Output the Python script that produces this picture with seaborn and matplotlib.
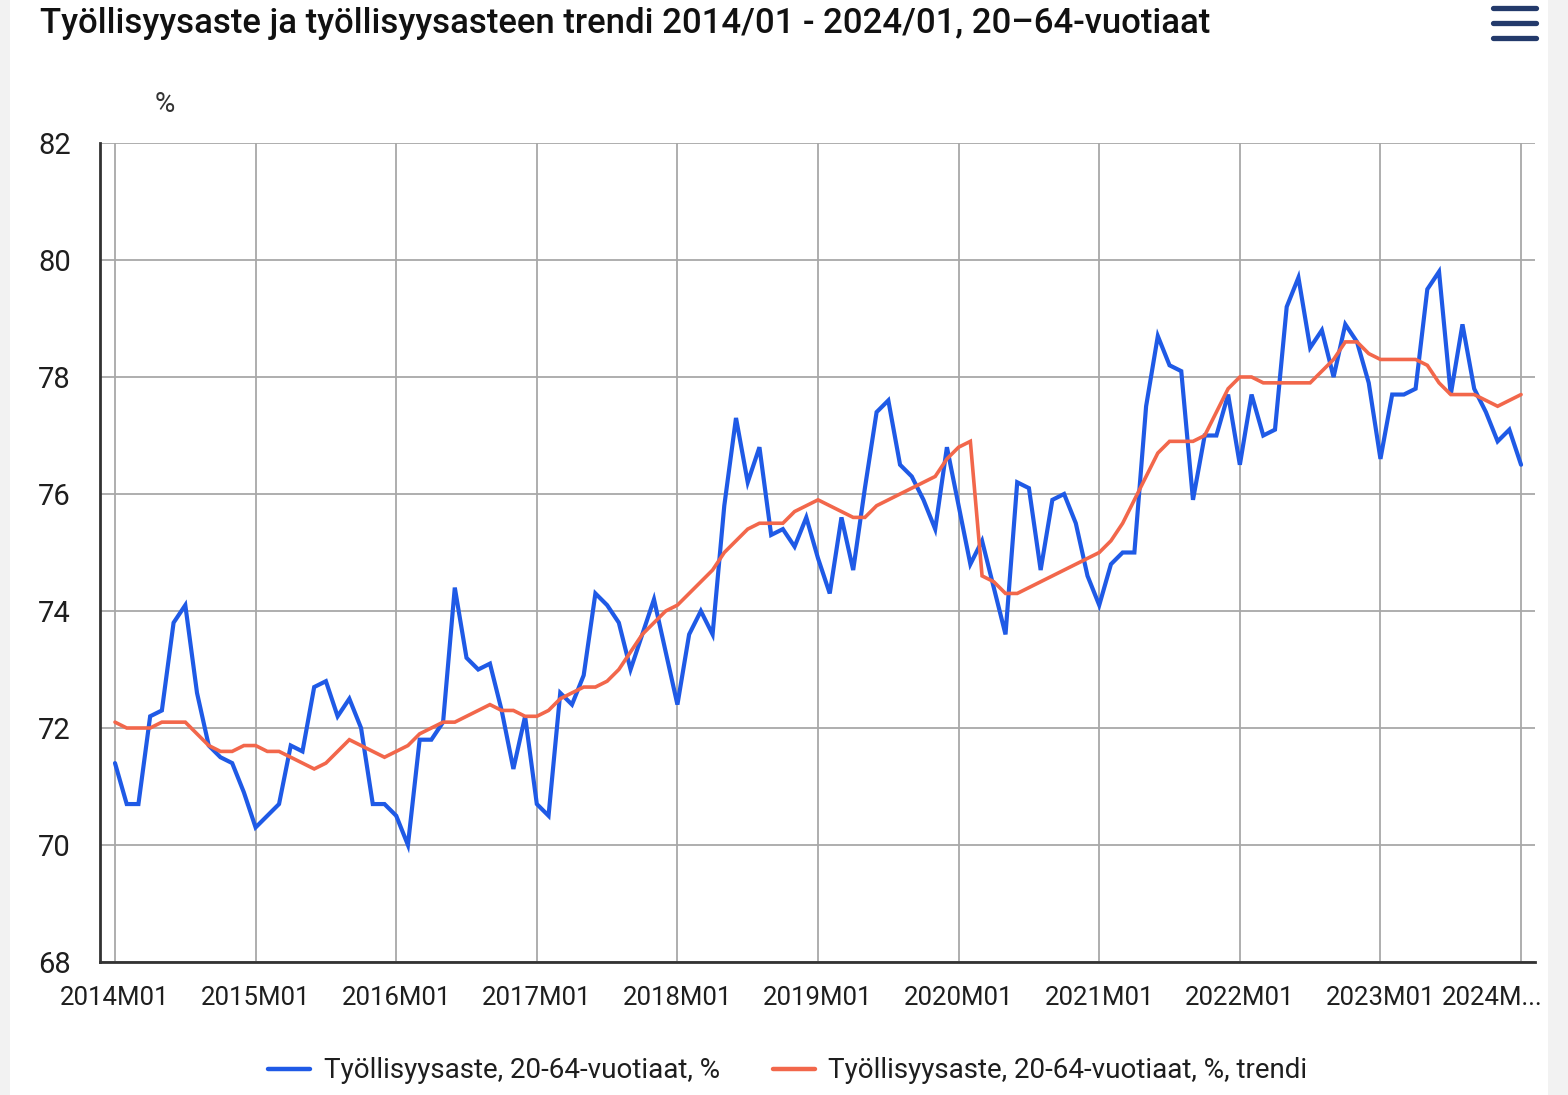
import matplotlib
matplotlib.use("Agg")
import matplotlib.pyplot as plt
from matplotlib.lines import Line2D
from matplotlib.patches import Rectangle
import matplotlib.transforms as mtransforms
import seaborn as sns
import pandas as pd
import numpy as np

title = "Työllisyysaste ja työllisyysasteen trendi 2014/01 - 2024/01, 20–64-vuotiaat"
series_names = ["Työllisyysaste, 20-64-vuotiaat, %",
                "Työllisyysaste, 20-64-vuotiaat, %, trendi"]
tick_labels = ["2014M01", "2015M01", "2016M01", "2017M01", "2018M01", "2019M01",
               "2020M01", "2021M01", "2022M01", "2023M01", "2024M..."]
y_ticks = [68, 70, 72, 74, 76, 78, 80, 82]

rate = [71.4, 70.7, 70.7, 72.2, 72.3, 73.8, 74.1, 72.6, 71.7, 71.5, 71.4, 70.9,
        70.3, 70.5, 70.7, 71.7, 71.6, 72.7, 72.8, 72.2, 72.5, 72.0, 70.7, 70.7,
        70.5, 70.0, 71.8, 71.8, 72.1, 74.4, 73.2, 73.0, 73.1, 72.3, 71.3, 72.2,
        70.7, 70.5, 72.6, 72.4, 72.9, 74.3, 74.1, 73.8, 73.0, 73.6, 74.2, 73.3,
        72.4, 73.6, 74.0, 73.6, 75.8, 77.3, 76.2, 76.8, 75.3, 75.4, 75.1, 75.6,
        74.9, 74.3, 75.6, 74.7, 76.1, 77.4, 77.6, 76.5, 76.3, 75.9, 75.4, 76.8,
        75.8, 74.8, 75.2, 74.4, 73.6, 76.2, 76.1, 74.7, 75.9, 76.0, 75.5, 74.6,
        74.1, 74.8, 75.0, 75.0, 77.5, 78.7, 78.2, 78.1, 75.9, 77.0, 77.0, 77.7,
        76.5, 77.7, 77.0, 77.1, 79.2, 79.7, 78.5, 78.8, 78.0, 78.9, 78.6, 77.9,
        76.6, 77.7, 77.7, 77.8, 79.5, 79.8, 77.7, 78.9, 77.8, 77.4, 76.9, 77.1,
        76.5]

trend = [72.1, 72.0, 72.0, 72.0, 72.1, 72.1, 72.1, 71.9, 71.7, 71.6, 71.6, 71.7,
         71.7, 71.6, 71.6, 71.5, 71.4, 71.3, 71.4, 71.6, 71.8, 71.7, 71.6, 71.5,
         71.6, 71.7, 71.9, 72.0, 72.1, 72.1, 72.2, 72.3, 72.4, 72.3, 72.3, 72.2,
         72.2, 72.3, 72.5, 72.6, 72.7, 72.7, 72.8, 73.0, 73.3, 73.6, 73.8, 74.0,
         74.1, 74.3, 74.5, 74.7, 75.0, 75.2, 75.4, 75.5, 75.5, 75.5, 75.7, 75.8,
         75.9, 75.8, 75.7, 75.6, 75.6, 75.8, 75.9, 76.0, 76.1, 76.2, 76.3, 76.6,
         76.8, 76.9, 74.6, 74.5, 74.3, 74.3, 74.4, 74.5, 74.6, 74.7, 74.8, 74.9,
         75.0, 75.2, 75.5, 75.9, 76.3, 76.7, 76.9, 76.9, 76.9, 77.0, 77.4, 77.8,
         78.0, 78.0, 77.9, 77.9, 77.9, 77.9, 77.9, 78.1, 78.3, 78.6, 78.6, 78.4,
         78.3, 78.3, 78.3, 78.3, 78.2, 77.9, 77.7, 77.7, 77.7, 77.6, 77.5, 77.6,
         77.7]

months = np.arange(len(rate))
df = pd.DataFrame({
    "kk": np.concatenate([months, months]),
    "arvo": rate + trend,
    "sarja": [series_names[0]] * len(rate) + [series_names[1]] * len(trend),
})

sns.set_theme(style="white")
plt.rcParams["font.family"] = ["Roboto", "DejaVu Sans"]

colors = {series_names[0]: "#1f5ae6", series_names[1]: "#f2674b"}

fig = plt.figure(figsize=(15.68, 10.95), dpi=100)
fig.patch.set_facecolor("white")
ax = fig.add_axes([100 / 1568, 1 - 962 / 1095, 1435 / 1568, (962 - 143) / 1095])

sns.lineplot(data=df, x="kk", y="arvo", hue="sarja", palette=colors, ax=ax,
             legend=False, estimator=None)
for ln, lw in zip(ax.lines, [3.0, 2.6]):
    ln.set_linewidth(lw)
    ln.set_solid_joinstyle("miter")

ax.set_xlim(-1.28, 121.19)
ax.set_ylim(68, 82)
ax.set_xticks(np.arange(0, 121, 12))
ax.set_xticklabels(tick_labels)
ax.set_yticks(y_ticks)
ax.set_xlabel("")
ax.set_ylabel("")

ax.grid(True, color="#a8a8a8", linewidth=1.3)
ax.set_axisbelow(True)
for s in ["top", "right"]:
    ax.spines[s].set_visible(False)
for s in ["left", "bottom"]:
    ax.spines[s].set_color("#333333")
    ax.spines[s].set_linewidth(2)
    ax.spines[s].set_zorder(3)

ax.tick_params(axis="x", length=14, width=1.2, color="#c9d1e8", pad=3,
               labelsize=18.5, labelcolor="#1e1e1e")
ax.tick_params(axis="y", length=0, pad=21, labelsize=21, labelcolor="#1e1e1e")

# last label is shortened and pushed left in the reference
last = ax.get_xticklabels()[-1]
last.set_horizontalalignment("right")
last.set_transform(last.get_transform() + mtransforms.ScaledTranslation(
    22 / 100, 0, fig.dpi_scale_trans))

# title and unit
fig.text(40 / 1568, 1 - 24 / 1095, title, fontsize=25, fontweight="medium",
         color="#111111", ha="left", va="center")
fig.text(165 / 1568, 1 - 104 / 1095, "%", fontsize=20, color="#333333",
         ha="center", va="center")

# legend
handles = [Line2D([0], [0], color=colors[n], lw=3.2) for n in series_names]
fig.legend(handles, series_names, loc="center", bbox_to_anchor=(788 / 1568, 1 - 1071 / 1095),
           ncol=2, frameon=False, fontsize=20, handlelength=1.5, handletextpad=0.5,
           columnspacing=1.9, labelcolor="#1e1e1e")

# side strips
fig.add_artist(Rectangle((0, 0), 10 / 1568, 1, transform=fig.transFigure,
                         facecolor="#f2f2f2", edgecolor="none"))
fig.add_artist(Rectangle((1548 / 1568, 0), 20 / 1568, 1, transform=fig.transFigure,
                         facecolor="#f2f2f2", edgecolor="none"))

# menu icon
for yy in [8, 23, 38]:
    fig.add_artist(Line2D([1493 / 1568, 1536 / 1568], [1 - yy / 1095, 1 - yy / 1095],
                          transform=fig.transFigure, color="#233a6b", lw=3.8,
                          solid_capstyle="round"))

fig.savefig("out.png", dpi=100)
